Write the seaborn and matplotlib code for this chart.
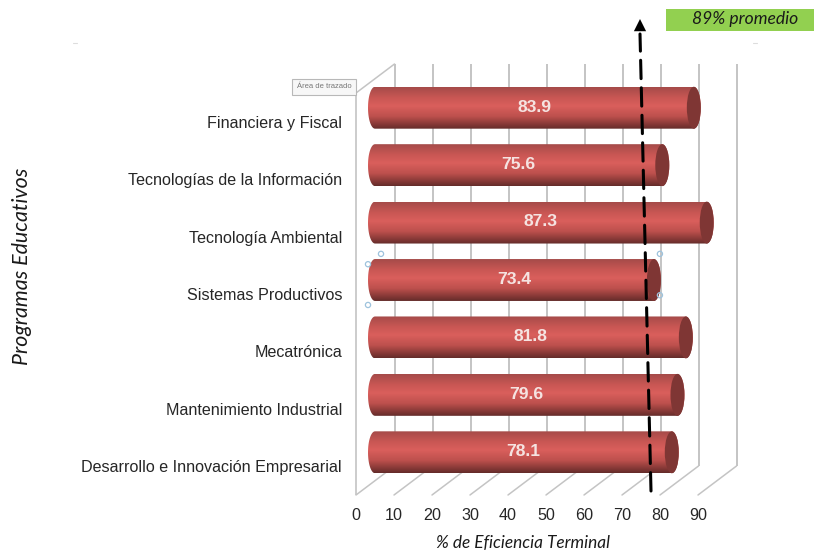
import numpy as np
import seaborn as sns
import matplotlib.pyplot as plt
from matplotlib.lines import Line2D
from matplotlib.patches import Ellipse, PathPatch, Rectangle
from matplotlib.path import Path
from matplotlib.transforms import ScaledTranslation
from matplotlib.colors import LinearSegmentedColormap

programas = ['Financiera y Fiscal', 'Tecnologías de la Información', 'Tecnología Ambiental',
             'Sistemas Productivos', 'Mecatrónica', 'Mantenimiento Industrial',
             'Desarrollo e Innovación Empresarial']
eficiencia = [83.9, 75.6, 87.3, 73.4, 81.8, 79.6, 78.1]
ticks = [0, 10, 20, 30, 40, 50, 60, 70, 80, 90]

sns.set_style('white')
plt.rcParams['font.family'] = ['Liberation Sans', 'DejaVu Sans']

W, H = 814, 556
fig = plt.figure(figsize=(W / 100, H / 100), dpi=100)
ax = fig.add_axes([356 / W, (H - 495) / H, 342 / W, 402 / H])

sns.barplot(x=eficiencia, y=programas, orient='h', width=0.73, color='#c65450', saturation=1, ax=ax)

# fake 3d: bars sit half way into the depth, the grid on the back wall
mid = ax.transData + ScaledTranslation(19 / 100, 14 / 100, fig.dpi_scale_trans)
back = ax.transData + ScaledTranslation(38.5 / 100, 29 / 100, fig.dpi_scale_trans)

ax.set_xlim(0, 90)
ax.set_ylim(6.5, -0.5)
ax.set_xticks(ticks)
ax.tick_params(axis='both', length=0, labelsize=11.6, labelcolor='#262626')
ax.tick_params(axis='x', pad=9)
ax.tick_params(axis='y', pad=10)
ax.set_xlabel('')
ax.set_ylabel('')
sns.despine(ax=ax, left=True, bottom=True)
ax.grid(False)

grid = '#c4c4c4'
ax.vlines(ticks, -0.5, 6.5, color=grid, lw=1.4, transform=back, zorder=1, clip_on=False)
ax.vlines([0], -0.5, 6.5, color=grid, lw=1.2, zorder=1, clip_on=False)
for t in ticks:
    ax.annotate('', xy=(t, 6.5), xycoords=back, xytext=(t, 6.5), textcoords='data',
                arrowprops=dict(arrowstyle='-', color=grid, lw=1.1, shrinkA=0, shrinkB=0), zorder=1)
ax.annotate('', xy=(0, -0.5), xycoords=back, xytext=(0, -0.5), textcoords='data',
            arrowprops=dict(arrowstyle='-', color=grid, lw=1.1, shrinkA=0, shrinkB=0), zorder=1)

shade = LinearSegmentedColormap.from_list('cyl', [(0, '#a64b49'), (0.25, '#c95754'), (0.45, '#da5f5c'),
                                                  (0.7, '#bd504d'), (0.88, '#8a3a38'), (1, '#652c2a')])
grad = np.linspace(0, 1, 64).reshape(-1, 1)
cap_w = 14 / 3.8
theta = np.linspace(np.pi / 2, 3 * np.pi / 2, 30)

for bar in list(ax.patches):
    v = bar.get_width()
    y0 = bar.get_y()
    h = bar.get_height()
    cy = y0 + h / 2
    bar.set_transform(mid)
    bar.set_facecolor('none')
    bar.set_edgecolor('none')
    bar.set_clip_on(False)
    left = np.column_stack([cap_w / 2 * np.cos(theta), cy - h / 2 * np.sin(theta)])
    right = np.column_stack([v - cap_w / 2 * np.cos(theta), cy + h / 2 * np.sin(theta)])
    outline = Path(np.vstack([left, right, left[:1]]), closed=True)
    im = ax.imshow(grad, cmap=shade, aspect='auto', extent=(-cap_w, v + cap_w, y0 + h, y0),
                   zorder=3, transform=mid)
    clip = PathPatch(outline, transform=mid)
    im.set_clip_path(clip)
    im.set_clip_box(fig.bbox)
    ax.add_patch(Ellipse((v, cy), cap_w, h, facecolor='#7f3634', edgecolor='none',
                         transform=mid, zorder=4, clip_on=False))
    ax.text(v / 2, cy - 0.01, f'{v:.1f}', transform=mid, ha='center', va='center',
            color='#f5e3e1', fontsize=12.6, fontweight='bold', zorder=5)

ax.set_xlim(0, 90)
ax.set_ylim(6.5, -0.5)

# selection handles left over around the fourth bar
b4 = ax.patches[3]
right_h = b4.get_width() + 6 / 3.8
hx = [-cap_w / 2, 6 / 3.8, right_h, right_h, -cap_w / 2]
hy = [b4.get_y() + 0.09, b4.get_y() - 0.09, b4.get_y() - 0.09, b4.get_y() + 0.63, b4.get_y() + 0.8]
ax.scatter(hx, hy, s=14, facecolor='none', edgecolor='#9ec3dd', lw=0.9, transform=mid, zorder=6, clip_on=False)

# dashed arrow in pixels of the picture
px = lambda x, y: (x / W, 1 - y / H)
ax.annotate('', xy=px(640, 34), xytext=px(651, 491), xycoords='figure fraction', textcoords='figure fraction',
            arrowprops=dict(arrowstyle='-', color='black', lw=2.2, linestyle=(0, (6, 3)), shrinkA=0, shrinkB=0),
            zorder=7)
ax.annotate('', xy=px(640, 19), xytext=px(640, 34), xycoords='figure fraction', textcoords='figure fraction',
            arrowprops=dict(arrowstyle='-|>', color='black', lw=0, mutation_scale=22, shrinkA=0, shrinkB=0),
            zorder=7)

fig.add_artist(Rectangle(px(666, 31), 148 / W, 22 / H, transform=fig.transFigure, facecolor='#92d050', edgecolor='none'))
fig.text(*px(745, 19), '89% promedio', ha='center', va='center', fontsize=12.6, style='italic',
         family=['Lato', 'DejaVu Sans'], color='#1a1a1a')
fig.text(*px(523, 543), '% de Eficiencia Terminal', ha='center', va='center', fontsize=12.4, style='italic',
         family=['Lato', 'DejaVu Sans'], color='#1a1a1a')
fig.text(*px(22, 266), 'Programas Educativos', ha='center', va='center', rotation=90, fontsize=15.4, style='italic',
         family=['Lato', 'DejaVu Sans'], color='#1a1a1a')

# tooltip of the original screenshot
fig.text(*px(324, 87), 'Área de trazado', ha='center', va='center', fontsize=5.5, color='#777777',
         bbox=dict(boxstyle='square,pad=0.55', facecolor='#f7f7f7', edgecolor='#b8b8b8', lw=0.8))

# faint specks in the scan
for sx in [75, 755]:
    fig.add_artist(Line2D([(sx - 2) / W, (sx + 2) / W], [1 - 43 / H, 1 - 43 / H], color='#dddddd', lw=0.8))

fig.savefig('out.png', dpi=100)
